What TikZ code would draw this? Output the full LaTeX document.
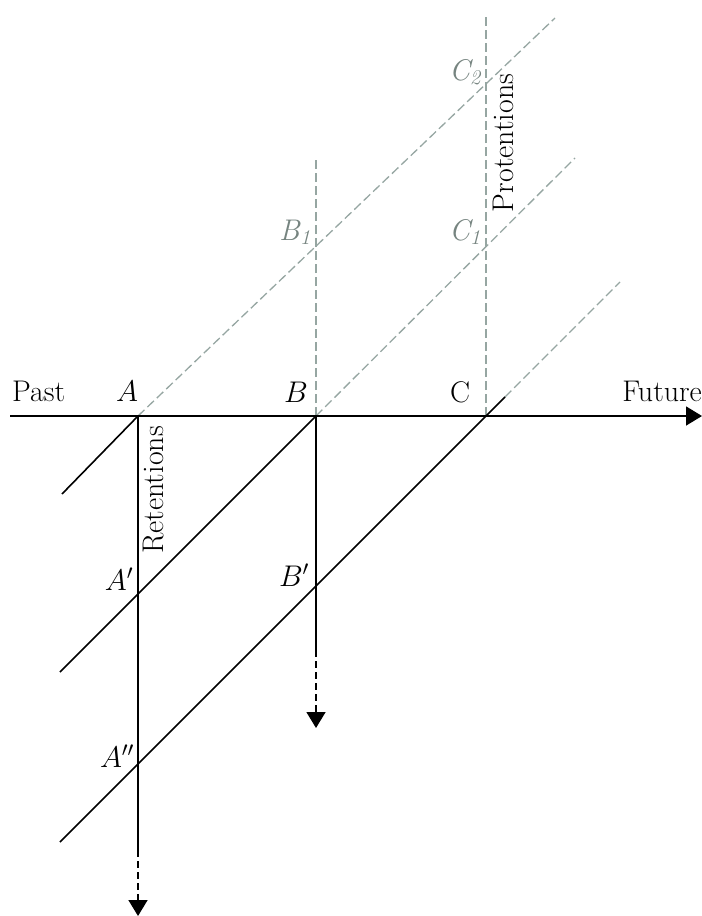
\RequirePackage{fix-cm}
\documentclass[tikz,border=0pt]{standalone}
\usetikzlibrary{arrows.meta}
\definecolor{protgray}{RGB}{150,166,162}
\definecolor{labgray}{RGB}{118,132,128}
\begin{document}
\begin{tikzpicture}[x=1bp,y=-1bp,
  solidline/.style={line width=1.6bp, black},
  grayline/.style={line width=1.3bp, protgray, dash pattern=on 9bp off 4bp},
  blackdash/.style={line width=1.6bp, black, dash pattern=on 7bp off 4bp},
  tipend/.style={-{Triangle[length=16bp,width=19bp]}},
  lab/.style={inner sep=0pt, anchor=base, font=\fontsize{30}{36}\selectfont},
  glab/.style={lab, text=labgray},
]
\useasboundingbox (0,0) rectangle (702,916);
% key points
\coordinate (A) at (138,416);
\coordinate (B) at (316,416);
\coordinate (C) at (486,416);
\coordinate (Ap) at (138,594);
\coordinate (App) at (138,764);
\coordinate (Bp) at (316,586);
\coordinate (pastend) at (10,416);
\coordinate (futend) at (702,416);
\coordinate (d1s) at (62,494);
\coordinate (d1e) at (555,18);
\coordinate (d2s) at (60,672);
\coordinate (d2e) at (575,158);
\coordinate (d3s) at (60,842);
\coordinate (d3m) at (505,397);
\coordinate (d3e) at (620,282);
\coordinate (Aend) at (138,850);
\coordinate (Atip) at (138,916);
\coordinate (Bend) at (316,650);
\coordinate (Btip) at (316,728);
\coordinate (Btop) at (316,160);
\coordinate (Ctop) at (486,15);
% protentions (gray dashed)
\draw[grayline] (A) -- (d1e);
\draw[grayline] (B) -- (d2e);
\draw[grayline] (d3m) -- (d3e);
\draw[grayline] (B) -- (Btop);
\draw[grayline] (C) -- (Ctop);
% main time axis
\draw[solidline,tipend] (pastend) -- (futend);
% retention diagonals
\draw[solidline] (d1s) -- (A);
\draw[solidline] (d2s) -- (Ap) -- (B);
\draw[solidline] (d3s) -- (App) -- (Bp) -- (C) -- (d3m);
% retention verticals
\draw[solidline] (A) -- (Aend);
\draw[blackdash,tipend] (Aend) -- (Atip);
\draw[solidline] (B) -- (Bend);
\draw[blackdash,tipend] (Bend) -- (Btip);
% labels
\node[lab, anchor=base west] (past) at (12,401) {Past};
\node[lab, anchor=base east] (future) at (702,401) {Future};
\node[lab] (lA) at (127,401) {$A$};
\node[lab] (lB) at (296,402) {$B$};
\node[lab] (lC) at (460,402) {C};
\node[lab] (lAp) at (119,590) {$A'$};
\node[lab] (lBp) at (294,586) {$B'$};
\node[lab] (lApp) at (117,767) {$A''$};
\node[glab] (lB1) at (295,240) {\textit{B\textsubscript{1}}};
\node[glab] (lC1) at (465,240) {\textit{C\textsubscript{1}}};
\node[glab] (lC2) at (465,80) {\textit{C\textsubscript{2}}};
\node[lab, anchor=center, rotate=90] (ret) at (154,490) {Retentions};
\node[lab, anchor=center, rotate=90] (prot) at (503,143) {Protentions};
\end{tikzpicture}
\end{document}
